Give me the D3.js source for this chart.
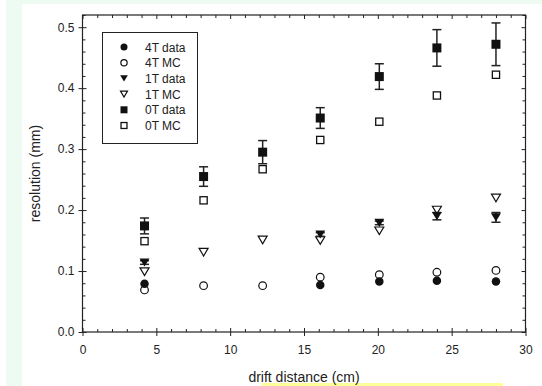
<!DOCTYPE html>
<html>
<head>
<meta charset="utf-8">
<script src="https://cdn.jsdelivr.net/npm/d3@7"></script>
<style>
  html, body { margin: 0; padding: 0; background: #ffffff; }
  svg { display: block; }
  text { font-family: "Liberation Sans", Arial, sans-serif; }
</style>
</head>
<body>
<svg id="chart" width="542" height="386"></svg>
<script>
// ---- data ----
const distance = [4.2, 8.2, 12.2, 16.1, 20.1, 24.0, 28.0];
const res4Tdata = [0.079, null, null, 0.077, 0.083, 0.084, 0.083];
const res4TMC   = [0.069, 0.076, 0.076, 0.090, 0.094, 0.098, 0.101];
const res1Tdata = [0.114, null, null, 0.160, 0.179, 0.190, 0.188];
const err1Tdata = [0.003, 0, 0, 0.003, 0.003, 0.006, 0.008];
const res1TMC   = [0.099, 0.131, 0.151, 0.150, 0.166, 0.200, 0.220];
const res0Tdata = [0.174, 0.255, 0.295, 0.351, 0.419, 0.466, 0.472];
const err0Tdata = [0.013, 0.016, 0.019, 0.017, 0.021, 0.030, 0.035];
const res0TMC   = [0.149, 0.216, 0.267, 0.315, 0.345, 0.388, 0.422];

const xTicks = [0, 5, 10, 15, 20, 25, 30];
const yTicks = [0.0, 0.1, 0.2, 0.3, 0.4, 0.5];
const legendLabels = ["4T data", "4T MC", "1T data", "1T MC", "0T data", "0T MC"];
const xTitle = "drift distance (cm)";
const yTitle = "resolution (mm)";

// ---- layout ----
const svg = d3.select("#chart");
const W = 542, H = 386;
const L = 82.5, R = 525.5, T = 15, B = 332;

// background panels
svg.append("rect").attr("x", 6).attr("y", 0).attr("width", W - 6).attr("height", H).attr("fill", "#eefbf3");
svg.append("rect").attr("x", 22).attr("y", 4).attr("width", W - 22).attr("height", H - 4).attr("fill", "#ffffff");
svg.append("rect").attr("x", 262).attr("y", 383).attr("width", 241).attr("height", 3).attr("fill", "#ffff99");

const x = d3.scaleLinear().domain([0, 30]).range([L, R]);
const y = d3.scaleLinear().domain([0, 0.52]).range([B, T]);

const xMinor = d3.range(0, 31, 1).filter(v => v % 5 !== 0);
const yMinor = d3.range(0, 0.521, 0.02).filter(v => Math.abs(v * 10 - Math.round(v * 10)) > 1e-6);

function styleAxis(g) {
  g.select(".domain").remove();
  g.selectAll("line").attr("stroke", "#222").attr("stroke-width", 1);
  g.selectAll("text").attr("fill", "#222").attr("font-size", 12);
}

// bottom axis: labels + outward major ticks
svg.append("g").attr("transform", `translate(0,${B})`)
  .call(d3.axisBottom(x).tickValues(xTicks).tickSize(4).tickPadding(9).tickFormat(d3.format("d")))
  .call(styleAxis);
// inward major + minor bottom
svg.append("g").attr("transform", `translate(0,${B})`)
  .call(d3.axisBottom(x).tickValues(xTicks).tickSize(-4).tickFormat(""))
  .call(styleAxis);
svg.append("g").attr("transform", `translate(0,${B})`)
  .call(d3.axisBottom(x).tickValues(xMinor).tickSize(-3).tickFormat(""))
  .call(styleAxis);
// top axis inward
svg.append("g").attr("transform", `translate(0,${T})`)
  .call(d3.axisTop(x).tickValues(xTicks).tickSize(-4).tickFormat(""))
  .call(styleAxis);
svg.append("g").attr("transform", `translate(0,${T})`)
  .call(d3.axisTop(x).tickValues(xMinor).tickSize(-3).tickFormat(""))
  .call(styleAxis);

// left axis
svg.append("g").attr("transform", `translate(${L},0)`)
  .call(d3.axisLeft(y).tickValues(yTicks).tickSize(4).tickPadding(4).tickFormat(d3.format(".1f")))
  .call(styleAxis);
svg.append("g").attr("transform", `translate(${L},0)`)
  .call(d3.axisLeft(y).tickValues(yTicks).tickSize(-4).tickFormat(""))
  .call(styleAxis);
svg.append("g").attr("transform", `translate(${L},0)`)
  .call(d3.axisLeft(y).tickValues(yMinor).tickSize(-3).tickFormat(""))
  .call(styleAxis);
// right axis inward
svg.append("g").attr("transform", `translate(${R},0)`)
  .call(d3.axisRight(y).tickValues(yTicks).tickSize(-4).tickFormat(""))
  .call(styleAxis);
svg.append("g").attr("transform", `translate(${R},0)`)
  .call(d3.axisRight(y).tickValues(yMinor).tickSize(-3).tickFormat(""))
  .call(styleAxis);

// frame
svg.append("rect").attr("x", L).attr("y", T).attr("width", R - L).attr("height", B - T)
  .attr("fill", "none").attr("stroke", "#222").attr("stroke-width", 1.2);

// axis titles
svg.append("text").attr("x", (L + R) / 2).attr("y", 382).attr("text-anchor", "middle")
  .attr("font-size", 14).attr("fill", "#222").text(xTitle);
svg.append("text").attr("transform", `translate(40,${(T + B) / 2}) rotate(-90)`)
  .attr("text-anchor", "middle").attr("font-size", 14).attr("fill", "#222").text(yTitle);

// ---- marker drawing ----
function marker(g, kind, cx, cy, s) {
  const col = "#111";
  if (kind === "fcircle") {
    g.append("circle").attr("cx", cx).attr("cy", cy).attr("r", s * 0.5).attr("fill", col);
  } else if (kind === "ocircle") {
    g.append("circle").attr("cx", cx).attr("cy", cy).attr("r", s * 0.45).attr("fill", "none")
      .attr("stroke", col).attr("stroke-width", 1.2);
  } else if (kind === "ftri") {
    const h = s * 0.9, w = s * 0.55;
    g.append("path").attr("d", `M${cx - w},${cy - h / 2}L${cx + w},${cy - h / 2}L${cx},${cy + h / 2}Z`).attr("fill", col);
  } else if (kind === "otri") {
    const h = s * 0.85, w = s * 0.5;
    g.append("path").attr("d", `M${cx - w},${cy - h / 2}L${cx + w},${cy - h / 2}L${cx},${cy + h / 2}Z`)
      .attr("fill", "none").attr("stroke", col).attr("stroke-width", 1.2);
  } else if (kind === "fsquare") {
    g.append("rect").attr("x", cx - s / 2).attr("y", cy - s / 2).attr("width", s).attr("height", s).attr("fill", col);
  } else if (kind === "osquare") {
    const q = s * 0.85;
    g.append("rect").attr("x", cx - q / 2).attr("y", cy - q / 2).attr("width", q).attr("height", q)
      .attr("fill", "none").attr("stroke", col).attr("stroke-width", 1.3);
  }
}

function errorBars(g, vals, errs) {
  distance.forEach((d, i) => {
    if (vals[i] == null || !errs[i]) return;
    const cx = x(d), y1 = y(vals[i] + errs[i]), y2 = y(vals[i] - errs[i]);
    g.append("line").attr("x1", cx).attr("x2", cx).attr("y1", y1).attr("y2", y2).attr("stroke", "#222").attr("stroke-width", 1.5);
    [y1, y2].forEach(yy => g.append("line").attr("x1", cx - 4.5).attr("x2", cx + 4.5).attr("y1", yy).attr("y2", yy)
      .attr("stroke", "#222").attr("stroke-width", 1.5));
  });
}

const series = [
  { vals: res4TMC, kind: "ocircle", size: 8.5 },
  { vals: res1TMC, kind: "otri", size: 9 },
  { vals: res0TMC, kind: "osquare", size: 8.5 },
  { vals: res4Tdata, kind: "fcircle", size: 8.5 },
  { vals: res1Tdata, kind: "ftri", size: 9, err: err1Tdata },
  { vals: res0Tdata, kind: "fsquare", size: 9, err: err0Tdata }
];

const gData = svg.append("g");
series.forEach(s => {
  if (s.err) errorBars(gData, s.vals, s.err);
  distance.forEach((d, i) => {
    if (s.vals[i] == null) return;
    marker(gData, s.kind, x(d), y(s.vals[i]), s.size);
  });
});

// ---- legend ----
const lg = svg.append("g");
lg.append("rect").attr("x", 102.5).attr("y", 32.5).attr("width", 95).attr("height", 111)
  .attr("fill", "#fff").attr("stroke", "#222").attr("stroke-width", 1);
const legendKinds = ["fcircle", "ocircle", "ftri", "otri", "fsquare", "osquare"];
legendLabels.forEach((lab, i) => {
  const yy = 47 + i * 15.7;
  marker(lg, legendKinds[i], 124, yy, 7);
  lg.append("text").attr("x", 145).attr("y", yy + 4.5).attr("font-size", 12).attr("fill", "#222").text(lab);
});
</script>
</body>
</html>
